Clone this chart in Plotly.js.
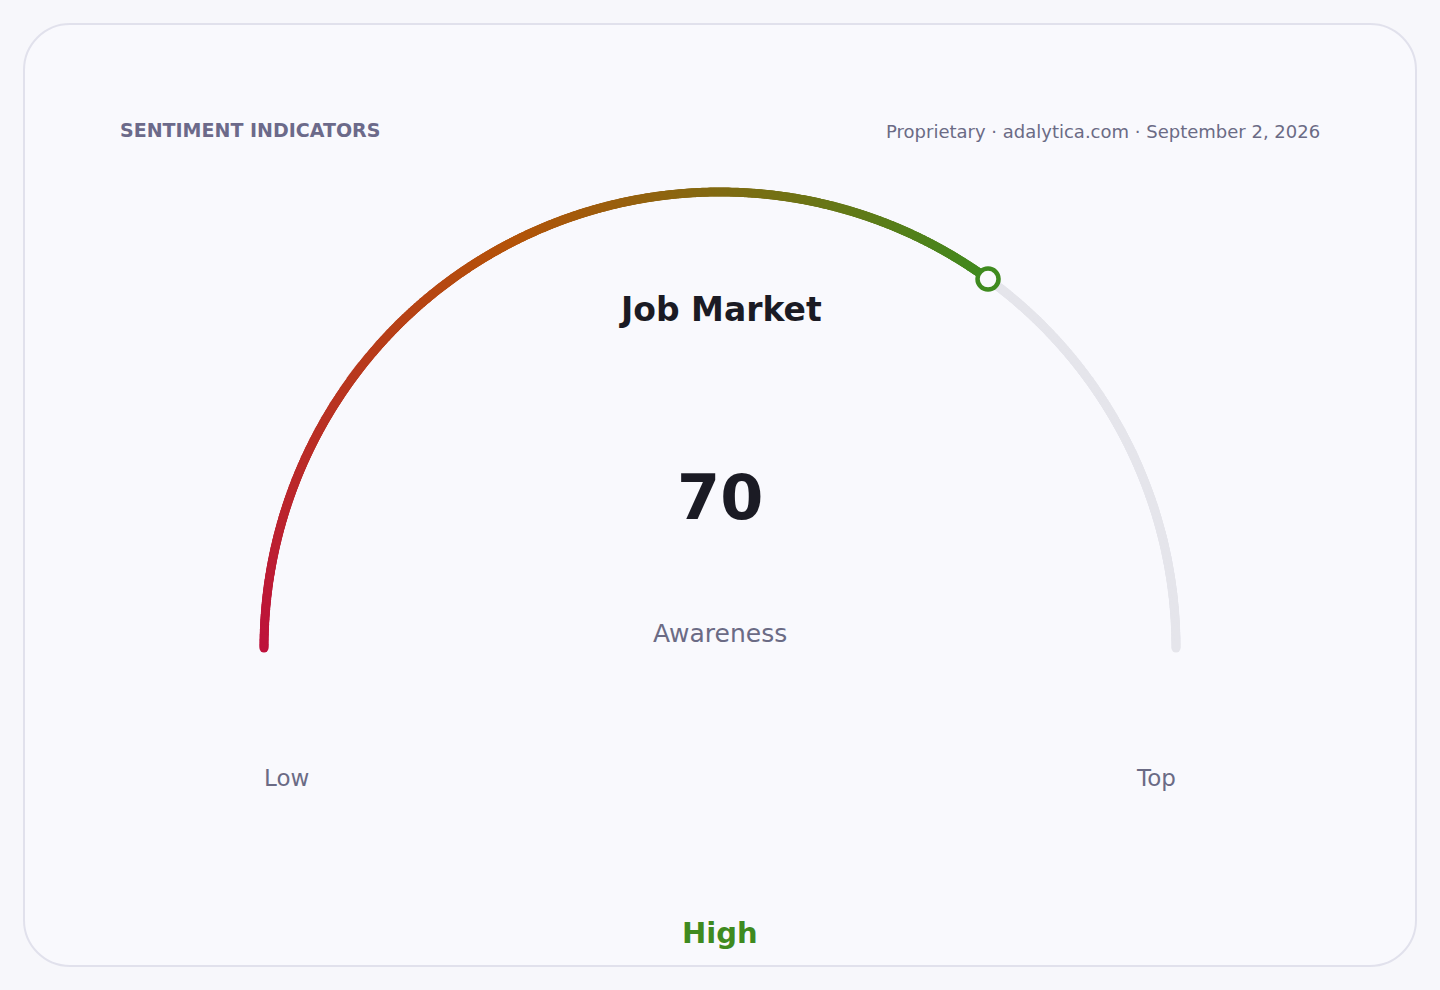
<!DOCTYPE html>
<html><head><meta charset="utf-8">
<script src="https://cdn.plot.ly/plotly-3.0.1.min.js"></script>
<style>html,body{margin:0;padding:0;background:#f7f7fb;} #chart{width:1440px;height:990px;}</style>
</head><body><div id="chart"></div>
<script>
// ---- data ----
const headerLeft = "SENTIMENT INDICATORS";
const headerRight = "Proprietary · adalytica.com · September 2, 2026";
const gaugeTitle = "Job Market";
const gaugeValue = [70];
const gaugeRange = [0, 100];
const gaugeLabel = "Awareness";
const endLabels = ["Low", "Top"];
const bandLabel = "High";

// ---- styling / geometry ----
const FONT = "DejaVu Sans, Verdana, sans-serif";
const cx = 720, cy = 648, R = 456;
const gradient = [[0, '#be123c'], [0.5, '#b45309'], [1, '#3f8a1f']];
const green = '#3f8a1f';
const trackColor = '#e5e5eb';

function pt(v) {
  const t = (v - gaugeRange[0]) / (gaugeRange[1] - gaugeRange[0]);
  const a = Math.PI * (1 - t);
  return [cx + R * Math.cos(a), cy - R * Math.sin(a)];
}

const val = gaugeValue[0];
const gx = [], gy = [], gc = [];
const N1 = 800;
for (let i = 0; i <= N1; i++) {
  const v = gaugeRange[0] + (val - gaugeRange[0]) * i / N1;
  const p = pt(v); gx.push(p[0]); gy.push(p[1]); gc.push(i / N1);
}
const tx = [], ty = [];
const N2 = 400;
for (let i = 0; i <= N2; i++) {
  const v = val + (gaugeRange[1] - val) * i / N2;
  const p = pt(v); tx.push(p[0]); ty.push(p[1]);
}
const mp = pt(val);

const traces = [
  {x: tx, y: ty, mode: 'markers', type: 'scatter', hoverinfo: 'skip',
   marker: {size: 9, color: trackColor, line: {width: 0}}},
  {x: gx, y: gy, mode: 'markers', type: 'scatter', hoverinfo: 'skip',
   marker: {size: 9, color: gc, colorscale: gradient, cmin: 0, cmax: 1, showscale: false, line: {width: 0}}},
  {x: [mp[0]], y: [mp[1]], mode: 'markers', type: 'scatter', hoverinfo: 'skip',
   marker: {size: 21, color: '#f9f9fd', line: {color: green, width: 4.5}}}
];

function rrect(x0, y0, x1, y1, r) {
  const k = r * 0.5523;
  return `M ${x0 + r},${y0} L ${x1 - r},${y0} C ${x1 - r + k},${y0} ${x1},${y0 + r - k} ${x1},${y0 + r} ` +
    `L ${x1},${y1 - r} C ${x1},${y1 - r + k} ${x1 - r + k},${y1} ${x1 - r},${y1} ` +
    `L ${x0 + r},${y1} C ${x0 + r - k},${y1} ${x0},${y1 - r + k} ${x0},${y1 - r} ` +
    `L ${x0},${y0 + r} C ${x0},${y0 + r - k} ${x0 + r - k},${y0} ${x0 + r},${y0} Z`;
}

const sub = '#6b6b85';
const ann = (text, x, y, size, color, weight, xanchor) => ({
  text, x, y, xref: 'x', yref: 'y', showarrow: false, xanchor: xanchor || 'center', yanchor: 'middle',
  borderpad: 0, borderwidth: 0,
  font: {family: FONT, size, color, weight: weight || 400}
});

const layout = {
  width: 1440, height: 990,
  margin: {l: 0, r: 0, t: 0, b: 0},
  paper_bgcolor: '#f7f7fb', plot_bgcolor: 'rgba(0,0,0,0)',
  showlegend: false,
  xaxis: {range: [0, 1440], visible: false, fixedrange: true},
  yaxis: {range: [990, 0], visible: false, fixedrange: true},
  shapes: [{type: 'path', xref: 'x', yref: 'y', layer: 'below', path: rrect(24, 24, 1416, 966, 46),
            fillcolor: '#f9f9fd', line: {color: '#e1e1ec', width: 2}}],
  annotations: [
    ann(headerLeft, 120, 130, 19, '#6c6a8a', 700, 'left'),
    ann(headerRight, 1320, 131, 18, sub, 400, 'right'),
    ann(gaugeTitle, 720, 309, 33, '#1b1b24', 700),
    ann(String(val), 720, 497, 62, '#1b1b24', 700),
    ann(gaugeLabel, 720, 633, 25, sub, 400),
    ann(endLabels[0], 264, 778, 23, sub, 400, 'left'),
    ann(endLabels[1], 1176, 778, 23, sub, 400, 'right'),
    ann(bandLabel, 720, 933, 29, green, 700)
  ]
};

Plotly.newPlot('chart', traces, layout, {displayModeBar: false, staticPlot: true});
</script>
</body></html>
